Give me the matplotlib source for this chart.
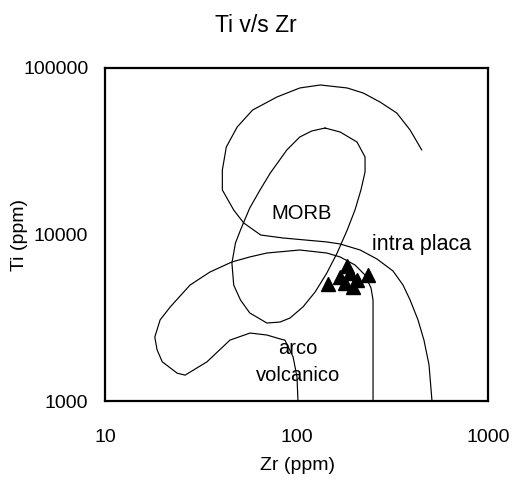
import matplotlib
matplotlib.use("Agg")
import matplotlib.pyplot as plt
from matplotlib.ticker import FixedLocator, NullLocator, FixedFormatter

plt.rcParams['font.family'] = ['Liberation Sans', 'DejaVu Sans']

# Sample data (triangles)
zr_samples = [146, 169, 184, 190, 197, 207, 236, 179]
ti_samples = [5040, 5560, 6470, 5870, 4840, 5330, 5710, 5110]

# Field boundary A (outer arc)
zr_a = [451, 392, 334, 273, 223, 184, 133, 104, 79, 59, 49, 43, 41, 41, 47, 53, 65, 85,
        144, 169, 215, 263, 319, 360, 392, 431, 463, 492, 510]
ti_a = [32170, 42420, 53650, 62480, 70760, 75860, 79070, 75860, 66960, 55930, 44210, 33540,
        24400, 18510, 14030, 11730, 9930, 9530, 9020, 8770, 8070, 7130, 6040, 4970, 4040,
        3070, 2320, 1650, 1000]

# Field boundary B (closed loop)
zr_b = [141, 169, 207, 228, 228, 217, 202, 184, 163, 144, 125, 108, 92.5, 82, 70, 57, 51,
        47, 46, 48, 51, 57, 64.5, 73, 89, 104, 120, 141]
ti_b = [43610, 41260, 35940, 29210, 23740, 18510, 14030, 10640, 7740, 5870, 4510, 3670,
        3150, 2980, 2940, 3380, 4040, 4970, 6740, 8890, 10640, 14430, 18510, 23410, 32170,
        38510, 41840, 43610]

# Field boundary C (lower arc / arc volcanic field)
zr_c = [251, 251, 245, 228, 202, 169, 144, 104, 70, 57, 46, 35.3, 27.8, 21.9, 19.4, 18.2,
        18.7, 19.9, 23.8, 26.2, 34.1, 44.9, 57.2, 70.1, 82, 87, 96, 100.6, 101.8]
ti_c = [1000, 4040, 4770, 5710, 6560, 7330, 7740, 8070, 7740, 7330, 6840, 5950, 4970, 3670,
        3070, 2420, 2030, 1720, 1470, 1430, 1720, 2320, 2560, 2490, 2360, 2320, 1840, 1390,
        1000]

x_ticks = [10, 100, 1000]
y_ticks = [1000, 10000, 100000]

fig = plt.figure(figsize=(5.15, 4.83), dpi=100)
ax = fig.add_axes([105/515, 1-401/483, (488-105)/515, (401-68)/483])
ax.set_xscale('log')
ax.set_yscale('log')
ax.set_xlim(10, 1000)
ax.set_ylim(1000, 100000)

for zx, ty in [(zr_a, ti_a), (zr_b, ti_b), (zr_c, ti_c)]:
    ax.plot(zx, ty, color='black', lw=0.85, solid_capstyle='round')

ax.plot(zr_samples, ti_samples, linestyle='none', marker='^', markersize=10.5,
        color='black', markeredgecolor='black')

ax.text(106.8, 13460, 'MORB', ha='center', va='center', fontsize=14.5)
ax.text(248, 8650, 'intra placa', ha='left', va='center', fontsize=15.5)
ax.text(101.8, 2081, 'arco', ha='center', va='center', fontsize=14.5)
ax.text(101.8, 1432, 'volcanico', ha='center', va='center', fontsize=14.5)

ax.xaxis.set_major_locator(FixedLocator(x_ticks))
ax.xaxis.set_major_formatter(FixedFormatter([str(v) for v in x_ticks]))
ax.xaxis.set_minor_locator(NullLocator())
ax.yaxis.set_major_locator(FixedLocator(y_ticks))
ax.yaxis.set_major_formatter(FixedFormatter([str(v) for v in y_ticks]))
ax.yaxis.set_minor_locator(NullLocator())
ax.tick_params(axis='x', length=0, pad=20, labelsize=14)
ax.tick_params(axis='y', length=0, pad=12, labelsize=14)

for s in ax.spines.values():
    s.set_linewidth(1.6)
    s.set_color('black')

fig.text(297/515, 1-466/483, 'Zr (ppm)', ha='center', va='center', fontsize=14)
fig.text(20/515, 1-235/483, 'Ti (ppm)', ha='center', va='center', fontsize=14,
         rotation=90)
fig.text(256/515, 1-25/483, 'Ti v/s Zr', ha='center', va='center', fontsize=16.5)

fig.savefig('out.png', dpi=100)
